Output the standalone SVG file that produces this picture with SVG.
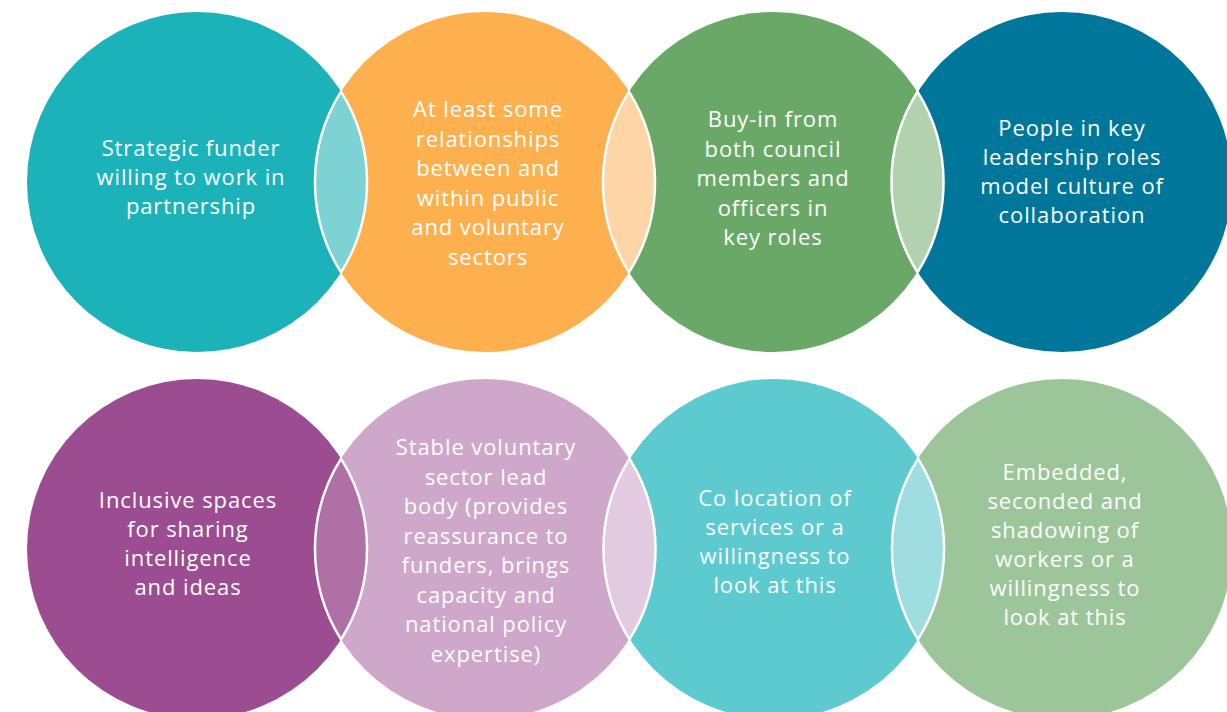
<svg xmlns="http://www.w3.org/2000/svg" width="1227" height="712" viewBox="0 0 1227 712">
<style>
.t{font-family:"Open Sans","Liberation Sans",sans-serif;font-size:22px;letter-spacing:0.9px;fill:#ffffff;text-anchor:middle}
.lens{stroke:#ffffff;stroke-width:2.5}
</style>
<rect width="1227" height="712" fill="#ffffff"/>
<g id="node1"><circle cx="197" cy="182" r="170" fill="#1BB3B9"/>
<text class="t" x="191"><tspan x="191" y="156">Strategic funder</tspan><tspan x="191" y="185">willing to work in</tspan><tspan x="191" y="214">partnership</tspan></text></g>
<g id="node2"><circle cx="485" cy="182" r="170" fill="#FEB04F"/></g>
<g id="node3"><circle cx="773" cy="182" r="170" fill="#69A867"/></g>
<g id="node4"><circle cx="1062" cy="182" r="170" fill="#00779A"/></g>
<g id="node5"><circle cx="197" cy="549" r="170" fill="#9C4C90"/></g>
<g id="node6"><circle cx="485" cy="549" r="170" fill="#CEA7CB"/></g>
<g id="node7"><circle cx="774" cy="549" r="170" fill="#5DCAD0"/></g>
<g id="node8"><circle cx="1062" cy="549" r="170" fill="#9DC59A"/></g>
<g id="overlaps">
<path class="lens" fill="#7DD3D4" d="M341 91.6 A170 170 0 0 0 341 272.4 A170 170 0 0 0 341 91.6Z"/>
<path class="lens" fill="#FDD5A7" d="M629 91.6 A170 170 0 0 0 629 272.4 A170 170 0 0 0 629 91.6Z"/>
<path class="lens" fill="#B2D1AF" d="M917.5 91.6 A170 170 0 0 0 917.5 272.4 A170 170 0 0 0 917.5 91.6Z"/>
<path class="lens" fill="#B070A6" d="M341 458.6 A170 170 0 0 0 341 639.4 A170 170 0 0 0 341 458.6Z"/>
<path class="lens" fill="#E2CBE0" d="M629.5 458.6 A170 170 0 0 0 629.5 639.4 A170 170 0 0 0 629.5 458.6Z"/>
<path class="lens" fill="#9EDDE0" d="M918 458.6 A170 170 0 0 0 918 639.4 A170 170 0 0 0 918 458.6Z"/>
</g>
<g id="labels">
<text class="t"><tspan x="488" y="117">At least some</tspan><tspan x="488" y="146.5">relationships</tspan><tspan x="488" y="176">between and</tspan><tspan x="488" y="205.5">within public</tspan><tspan x="488" y="235">and voluntary</tspan><tspan x="488" y="264.5">sectors</tspan></text>
<text class="t"><tspan x="773" y="127">Buy-in from</tspan><tspan x="773" y="156.5">both council</tspan><tspan x="773" y="186">members and</tspan><tspan x="773" y="215.5">officers in</tspan><tspan x="773" y="245">key roles</tspan></text>
<text class="t"><tspan x="1072" y="136">People in key</tspan><tspan x="1072" y="165">leadership roles</tspan><tspan x="1072" y="194">model culture of</tspan><tspan x="1072" y="223">collaboration</tspan></text>
<text class="t"><tspan x="188" y="508">Inclusive spaces</tspan><tspan x="188" y="537">for sharing</tspan><tspan x="188" y="566">intelligence</tspan><tspan x="188" y="595">and ideas</tspan></text>
<text class="t"><tspan x="486" y="455">Stable voluntary</tspan><tspan x="486" y="484.5">sector lead</tspan><tspan x="486" y="514">body (provides</tspan><tspan x="486" y="543.5">reassurance to</tspan><tspan x="486" y="573">funders, brings</tspan><tspan x="486" y="602.5">capacity and</tspan><tspan x="486" y="632">national policy</tspan><tspan x="486" y="661.5">expertise)</tspan></text>
<text class="t"><tspan x="775" y="506">Co location of</tspan><tspan x="775" y="535">services or a</tspan><tspan x="775" y="564">willingness to</tspan><tspan x="775" y="593">look at this</tspan></text>
<text class="t"><tspan x="1065" y="480">Embedded,</tspan><tspan x="1065" y="509">seconded and</tspan><tspan x="1065" y="538">shadowing of</tspan><tspan x="1065" y="567">workers or a</tspan><tspan x="1065" y="596">willingness to</tspan><tspan x="1065" y="625">look at this</tspan></text>
</g>
</svg>
